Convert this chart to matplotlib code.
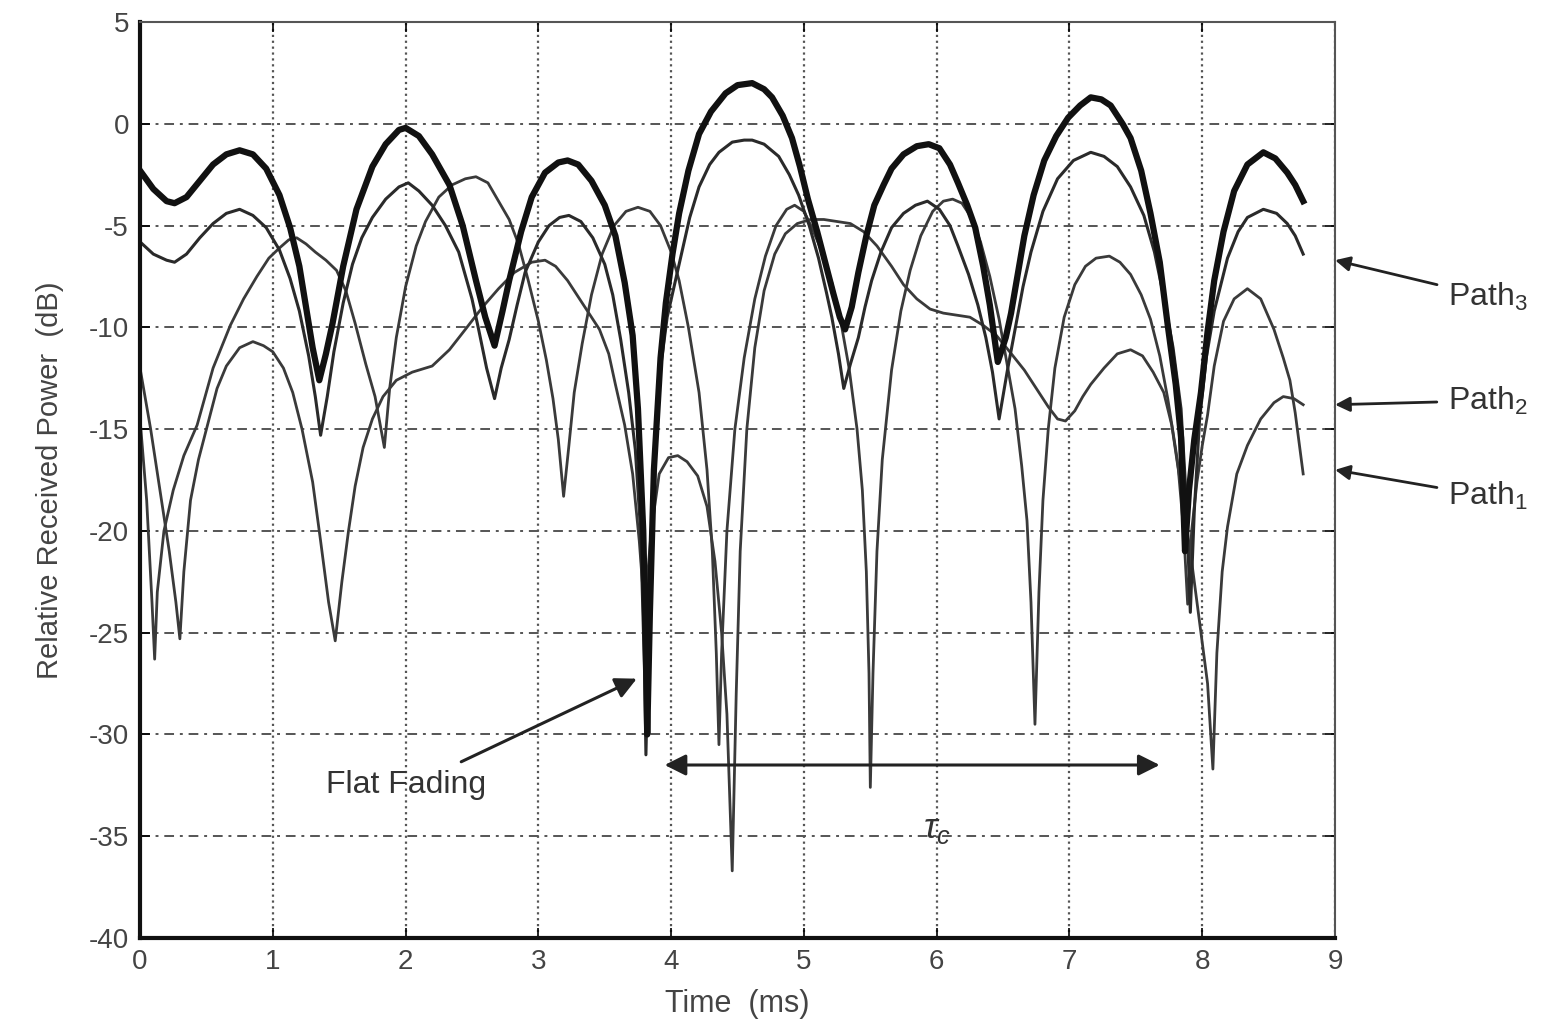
import matplotlib
matplotlib.use('Agg')
import matplotlib.pyplot as plt

plt.rcParams['font.family'] = ['Liberation Sans', 'DejaVu Sans']
plt.rcParams['mathtext.fontset'] = 'custom'
plt.rcParams['mathtext.rm'] = 'Liberation Sans'
plt.rcParams['mathtext.it'] = 'Liberation Sans:italic'
plt.rcParams['axes.unicode_minus'] = False

# received power of the composite signal (bold trace), time in ms, power in dB
t_sum = [0.00, 0.10, 0.20, 0.26, 0.35, 0.45, 0.55, 0.65, 0.75, 0.85, 0.95, 1.05, 1.13, 1.20, 1.25,
         1.30, 1.35, 1.40, 1.45, 1.53, 1.63, 1.75, 1.85, 1.95, 2.00, 2.10, 2.20, 2.33, 2.43, 2.53,
         2.60, 2.67, 2.73, 2.78, 2.87, 2.95, 3.05, 3.15, 3.22, 3.30, 3.40, 3.50, 3.58, 3.65, 3.71,
         3.75, 3.79, 3.81, 3.82, 3.84, 3.87, 3.92, 3.96, 4.01, 4.06, 4.13, 4.21, 4.30, 4.41, 4.50,
         4.61, 4.70, 4.76, 4.84, 4.91, 4.97, 5.03, 5.10, 5.16, 5.22, 5.27, 5.31, 5.36, 5.41, 5.47,
         5.53, 5.60, 5.66, 5.75, 5.85, 5.94, 6.02, 6.10, 6.16, 6.23, 6.29, 6.35, 6.40, 6.46, 6.52,
         6.56, 6.61, 6.66, 6.73, 6.81, 6.90, 6.99, 7.08, 7.16, 7.24, 7.31, 7.40, 7.46, 7.54, 7.61,
         7.68, 7.74, 7.80, 7.84, 7.87, 7.90, 7.94, 7.99, 8.04, 8.09, 8.16, 8.24, 8.34, 8.46, 8.55,
         8.64, 8.70, 8.76]
p_sum = [-2.3, -3.2, -3.8, -3.9, -3.6, -2.8, -2.0, -1.5, -1.3, -1.5, -2.2, -3.5, -5.1, -7.0, -9.0,
         -11.0, -12.6, -11.3, -9.8, -7.0, -4.2, -2.1, -1.0, -0.3, -0.2, -0.6, -1.5, -3.0, -5.0, -7.7,
         -9.5, -10.9, -9.2, -7.7, -5.3, -3.6, -2.4, -1.9, -1.8, -2.0, -2.8, -4.0, -5.5, -7.8, -10.4,
         -14.0, -20.0, -26.0, -30.0, -24.0, -17.0, -11.5, -8.8, -6.4, -4.4, -2.3, -0.5, 0.6, 1.5, 1.9,
         2.0, 1.7, 1.3, 0.4, -0.7, -2.1, -3.7, -5.3, -6.8, -8.3, -9.5, -10.1, -9.0, -7.3, -5.5,
         -4.0, -3.0, -2.2, -1.5, -1.1, -1.0, -1.2, -2.0, -2.9, -4.0, -5.1, -7.0, -8.9, -11.7, -10.5,
         -9.3, -7.4, -5.5, -3.5, -1.8, -0.6, 0.3, 0.9, 1.3, 1.2, 0.9, 0.0, -0.7, -2.3, -4.4,
         -6.8, -9.9, -12.8, -15.4, -21.0, -18.0, -15.5, -13.2, -10.2, -7.7, -5.3, -3.3, -2.0, -1.4, -1.7,
         -2.4, -3.0, -3.8]

# Path 3
t_p3 = [0.00, 0.10, 0.20, 0.26, 0.35, 0.45, 0.55, 0.65, 0.75, 0.85, 0.95, 1.05, 1.13, 1.20, 1.27,
        1.32, 1.36, 1.41, 1.46, 1.53, 1.60, 1.67, 1.75, 1.85, 1.95, 2.02, 2.10, 2.20, 2.30, 2.40,
        2.50, 2.55, 2.61, 2.67, 2.72, 2.78, 2.84, 2.90, 3.00, 3.08, 3.16, 3.23, 3.32, 3.41, 3.50,
        3.56, 3.62, 3.68, 3.73, 3.77, 3.80, 3.81, 3.83, 3.86, 3.91, 3.97, 4.06, 4.14, 4.21, 4.29,
        4.36, 4.46, 4.55, 4.61, 4.70, 4.81, 4.89, 4.96, 5.04, 5.11, 5.17, 5.21, 5.26, 5.30, 5.35,
        5.41, 5.46, 5.51, 5.58, 5.66, 5.75, 5.84, 5.93, 6.02, 6.10, 6.16, 6.24, 6.31, 6.37, 6.42,
        6.47, 6.53, 6.59, 6.65, 6.71, 6.80, 6.91, 7.03, 7.16, 7.26, 7.36, 7.46, 7.56, 7.64, 7.71,
        7.78, 7.84, 7.88, 7.91, 7.94, 7.98, 8.03, 8.09, 8.19, 8.27, 8.34, 8.46, 8.56, 8.64, 8.70,
        8.76]
p_p3 = [-5.8, -6.4, -6.7, -6.8, -6.4, -5.6, -4.9, -4.4, -4.2, -4.5, -5.1, -6.2, -7.6, -9.2, -11.4,
        -13.4, -15.3, -13.4, -11.2, -8.8, -6.9, -5.6, -4.6, -3.7, -3.1, -2.9, -3.3, -4.0, -5.0, -6.3,
        -8.6, -10.1, -12.0, -13.5, -12.0, -10.6, -8.9, -7.3, -5.8, -5.0, -4.6, -4.5, -4.8, -5.6, -6.9,
        -8.4, -10.6, -13.2, -16.0, -20.0, -27.0, -31.0, -25.0, -18.0, -12.5, -9.5, -6.9, -4.6, -3.1, -2.0,
        -1.4, -0.9, -0.8, -0.8, -1.0, -1.6, -2.5, -3.5, -5.0, -6.6, -8.3, -9.5, -11.3, -13.0, -11.8,
        -10.5, -9.0, -7.7, -6.3, -5.1, -4.4, -4.0, -3.8, -4.2, -5.0, -6.0, -7.4, -8.9, -10.5, -12.2,
        -14.5, -12.2, -10.1, -8.0, -6.3, -4.3, -2.7, -1.8, -1.4, -1.6, -2.1, -3.1, -4.5, -6.3, -8.5,
        -11.0, -14.0, -18.5, -24.0, -19.0, -14.5, -11.5, -9.2, -6.6, -5.3, -4.6, -4.2, -4.4, -4.9, -5.5,
        -6.4]

# Path 2
t_p2 = [0.00, 0.05, 0.09, 0.11, 0.13, 0.18, 0.25, 0.33, 0.43, 0.55, 0.68, 0.78, 0.88, 0.97, 1.05,
        1.12, 1.18, 1.25, 1.32, 1.40, 1.48, 1.55, 1.62, 1.70, 1.77, 1.84, 1.88, 1.93, 2.00, 2.08,
        2.15, 2.25, 2.35, 2.45, 2.53, 2.62, 2.70, 2.78, 2.85, 2.92, 3.00, 3.06, 3.11, 3.15, 3.19,
        3.23, 3.27, 3.33, 3.40, 3.48, 3.57, 3.66, 3.75, 3.84, 3.92, 4.00, 4.06, 4.13, 4.21, 4.27,
        4.31, 4.34, 4.36, 4.38, 4.42, 4.48, 4.55, 4.63, 4.71, 4.79, 4.87, 4.93, 5.00, 5.06, 5.13,
        5.21, 5.28, 5.34, 5.40, 5.44, 5.47, 5.49, 5.50, 5.52, 5.55, 5.59, 5.66, 5.73, 5.80, 5.88,
        5.97, 6.05, 6.12, 6.19, 6.26, 6.33, 6.40, 6.47, 6.53, 6.59, 6.64, 6.68, 6.71, 6.74, 6.77,
        6.80, 6.84, 6.89, 6.96, 7.04, 7.12, 7.20, 7.30, 7.38, 7.46, 7.54, 7.61, 7.68, 7.74, 7.80,
        7.86, 7.92, 7.98, 8.04, 8.08, 8.11, 8.15, 8.19, 8.26, 8.34, 8.44, 8.54, 8.61, 8.69, 8.76]
p_p2 = [-14.5, -18.5, -23.5, -26.3, -23.0, -20.0, -18.0, -16.3, -14.8, -12.0, -9.9, -8.6, -7.5, -6.6, -6.1,
        -5.7, -5.6, -5.9, -6.3, -6.7, -7.2, -8.2, -9.8, -11.8, -13.4, -15.9, -13.0, -10.5, -8.0, -6.0,
        -4.8, -3.6, -3.0, -2.7, -2.6, -2.9, -3.8, -4.7, -5.9, -7.6, -9.7, -11.6, -13.5, -15.5, -18.3,
        -15.8, -13.2, -10.8, -8.4, -6.4, -5.0, -4.3, -4.1, -4.3, -5.0, -6.3, -7.7, -10.0, -13.2, -17.0,
        -21.0, -26.0, -30.5, -26.0, -20.0, -15.0, -11.5, -8.6, -6.5, -5.0, -4.2, -4.0, -4.3, -5.1, -6.2,
        -7.8, -9.8, -12.0, -15.0, -18.0, -22.0, -27.0, -32.6, -27.0, -21.0, -16.5, -12.1, -9.2, -7.2, -5.5,
        -4.3, -3.8, -3.7, -3.9, -4.6, -5.8, -7.5, -9.6, -11.8, -14.0, -16.8, -19.5, -23.5, -29.5, -23.0,
        -18.5, -15.0, -12.0, -9.5, -7.9, -7.0, -6.6, -6.5, -6.8, -7.4, -8.4, -9.6, -11.4, -13.5, -16.0,
        -18.8, -21.5, -24.5, -27.5, -31.7, -26.0, -22.0, -19.8, -17.2, -15.8, -14.5, -13.7, -13.4, -13.5, -13.8]

# Path 1
t_p1 = [0.00, 0.08, 0.15, 0.22, 0.27, 0.30, 0.33, 0.38, 0.44, 0.50, 0.58, 0.65, 0.75, 0.85, 0.93,
        1.00, 1.08, 1.15, 1.22, 1.30, 1.36, 1.42, 1.47, 1.52, 1.57, 1.62, 1.68, 1.75, 1.83, 1.93,
        2.05, 2.20, 2.33, 2.45, 2.58, 2.70, 2.82, 2.95, 3.05, 3.13, 3.22, 3.31, 3.40, 3.46, 3.53,
        3.58, 3.65, 3.71, 3.76, 3.80, 3.85, 3.91, 3.98, 4.05, 4.12, 4.20, 4.27, 4.33, 4.38, 4.42,
        4.46, 4.49, 4.52, 4.57, 4.63, 4.70, 4.78, 4.86, 4.95, 5.05, 5.15, 5.25, 5.35, 5.45, 5.55,
        5.66, 5.75, 5.85, 5.95, 6.05, 6.15, 6.25, 6.35, 6.45, 6.55, 6.66, 6.75, 6.84, 6.91, 6.97,
        7.04, 7.10, 7.16, 7.26, 7.36, 7.46, 7.55, 7.63, 7.71, 7.77, 7.82, 7.86, 7.89, 7.92, 7.96,
        8.00, 8.04, 8.09, 8.16, 8.24, 8.34, 8.44, 8.54, 8.61, 8.66, 8.70, 8.73, 8.76]
p_p1 = [-12.0, -15.0, -18.0, -21.0, -23.5, -25.3, -22.0, -18.5, -16.5, -15.0, -13.0, -11.9, -11.0, -10.7, -10.9,
        -11.2, -12.0, -13.2, -15.0, -17.6, -20.5, -23.5, -25.4, -22.5, -20.0, -17.8, -15.9, -14.5, -13.4, -12.6,
        -12.2, -11.9, -11.1, -10.1, -9.0, -8.1, -7.3, -6.8, -6.7, -7.0, -7.7, -8.6, -9.5, -10.1, -11.3,
        -12.8, -14.8, -17.2, -20.5, -24.0, -20.0, -17.2, -16.4, -16.3, -16.6, -17.3, -18.8, -21.5, -25.0, -29.0,
        -36.7, -28.0, -21.0, -15.0, -11.0, -8.2, -6.4, -5.4, -4.9, -4.7, -4.7, -4.8, -4.9, -5.3, -6.0,
        -7.0, -7.9, -8.6, -9.1, -9.3, -9.4, -9.5, -9.9, -10.4, -11.2, -12.1, -13.0, -13.9, -14.5, -14.6,
        -14.1, -13.4, -12.8, -12.0, -11.3, -11.1, -11.4, -12.2, -13.2, -14.8, -17.0, -20.0, -23.6, -20.0, -17.6,
        -15.8, -14.3, -11.9, -9.7, -8.6, -8.1, -8.6, -10.1, -11.5, -12.6, -14.2, -15.7, -17.2]

x_ticks = list(range(0, 10))
y_ticks = list(range(5, -41, -5))

fig = plt.figure(figsize=(15.56, 10.30), dpi=100)
ax = fig.add_axes([0.090, 0.0893, 0.768, 0.8893])

ax.plot(t_p1, p_p1, color='#3a3a3a', lw=2.0)
ax.plot(t_p2, p_p2, color='#3a3a3a', lw=2.0)
ax.plot(t_p3, p_p3, color='#2a2a2a', lw=2.2)
ax.plot(t_sum, p_sum, color='#111111', lw=4.5)

ax.set_xlim(0, 9)
ax.set_ylim(-40, 5)
ax.set_xticks(x_ticks)
ax.set_yticks(y_ticks)
ax.grid(True, axis='x', linestyle=':', color='#555555', lw=1.6)
ax.grid(True, axis='y', linestyle=(0, (5, 3, 1.5, 3)), color='#555555', lw=1.4)
ax.tick_params(direction='in', length=7, width=1.2, labelsize=20, labelcolor='#444444',
               top=True, right=True, pad=8)
for side in ('left', 'bottom'):
    ax.spines[side].set_linewidth(3)
    ax.spines[side].set_color('#111111')
for side in ('top', 'right'):
    ax.spines[side].set_linewidth(1.5)
    ax.spines[side].set_color('#555555')

ax.set_xlabel('Time  (ms)', fontsize=22, color='#444444', labelpad=10)
ax.set_ylabel('Relative Received Power  (dB)', fontsize=21, color='#444444', labelpad=18)

arrow = dict(arrowstyle='-|>', color='#222222', lw=2.2, mutation_scale=32)
ax.annotate('', xy=(3.76, -27.2), xytext=(2.4, -31.4), arrowprops=arrow)
ax.text(2.0, -32.5, 'Flat Fading', fontsize=23, color='#333333', ha='center', va='center')

ax.annotate('', xy=(7.7, -31.5), xytext=(3.93, -31.5),
            arrowprops=dict(arrowstyle='<|-|>', color='#222222', lw=2.2, mutation_scale=32))
ax.text(6.0, -34.6, r'$\tau_c$', fontsize=26, color='#333333', ha='center', va='center')

path_labels = [('Path$_3$', -8.5, -6.7), ('Path$_2$', -13.6, -13.8), ('Path$_1$', -18.3, -17.0)]
for label, y_text, y_tip in path_labels:
    ax.annotate(label, xy=(9.0, y_tip), xytext=(9.85, y_text), fontsize=23, color='#333333',
                va='center', ha='left', annotation_clip=False,
                arrowprops=dict(arrowstyle='-|>', color='#222222', lw=2.0, mutation_scale=22,
                                shrinkA=6, shrinkB=0))

fig.savefig('out.png', dpi=100, facecolor='white')
